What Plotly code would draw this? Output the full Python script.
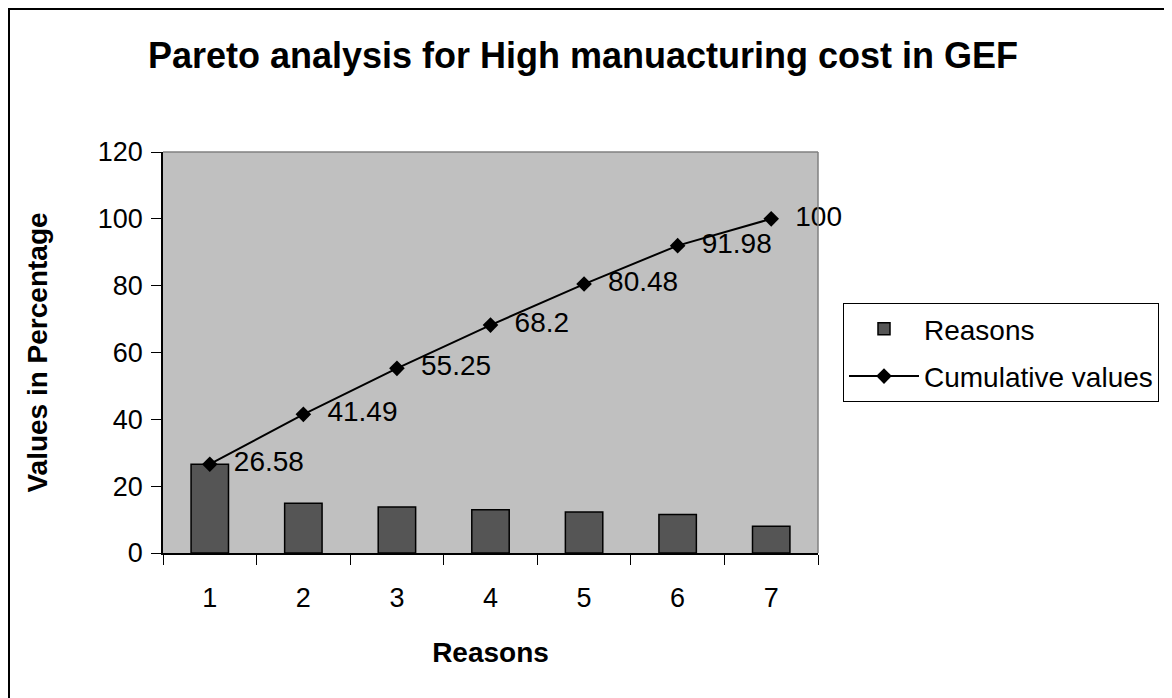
import plotly.graph_objects as go

categories = ["1", "2", "3", "4", "5", "6", "7"]
reasons = [26.58, 14.91, 13.76, 12.95, 12.28, 11.50, 8.02]
cumulative = [26.58, 41.49, 55.25, 68.2, 80.48, 91.98, 100]
cum_labels = ["26.58", "41.49", "55.25", "68.2", "80.48", "91.98", "100"]

FONT = "Liberation Sans, Arial, sans-serif"

fig = go.Figure()
fig.add_trace(go.Bar(
    x=categories, y=reasons, name="Reasons",
    marker=dict(color="#555555", line=dict(color="black", width=1.5)),
    width=0.4, legendgroup="a",
))
fig.add_trace(go.Scatter(
    x=categories, y=cumulative, name="Cumulative values",
    mode="lines+markers+text",
    line=dict(color="black", width=2),
    marker=dict(symbol="diamond", size=12, color="black"),
    text=cum_labels, texttemplate="  %{text}", textposition="middle right",
    textfont=dict(size=28, color="black", family=FONT),
    cliponaxis=False, legendgroup="b",
))

# pixel positions as seen in the screenshot (page has 8px body margin)
OFF = 8
L, R, T, B = 163, 818, 152, 553
W, H = 1172, 698
pw, ph = R - L, B - T

def px(xp):
    return (xp - L) / pw

def py(yp):
    return (B - yp) / ph

fig.update_layout(
    width=W, height=H,
    margin=dict(l=L - OFF, r=W - (R - OFF), t=T - OFF, b=H - (B - OFF), pad=0),
    paper_bgcolor="white",
    plot_bgcolor="#C0C0C0",
    font=dict(family=FONT, color="black", size=27),
    title=dict(text="<b>Pareto analysis for High manuacturing cost in GEF</b>",
               x=(583 - OFF) / W, xanchor="center", y=1 - (55 - OFF) / H, yanchor="middle",
               font=dict(size=36, family=FONT)),
    showlegend=True,
    legend=dict(x=px(843), y=py(303), xanchor="left", yanchor="top",
                bgcolor="white", bordercolor="black", borderwidth=1,
                font=dict(size=28, family=FONT), itemwidth=70,
                tracegroupgap=8),
    bargap=0.6,
    shapes=[
        dict(type="line", xref="paper", yref="paper", x0=px(9), x1=px(9),
             y0=py(9), y1=py(720), line=dict(color="black", width=2)),
        dict(type="line", xref="paper", yref="paper", x0=px(8), x1=px(1200),
             y0=py(9), y1=py(9), line=dict(color="black", width=2)),
        dict(type="line", xref="paper", yref="paper", x0=0, x1=1,
             y0=1, y1=1, line=dict(color="#808080", width=1.5)),
        dict(type="line", xref="paper", yref="paper", x0=1, x1=1,
             y0=0, y1=1, line=dict(color="#808080", width=1.5)),
    ],
)

fig.update_xaxes(
    type="category",
    tickson="boundaries",
    ticks="outside", ticklen=10, tickwidth=1, tickcolor="black",
    showline=True, linecolor="black", linewidth=1.5,
    showgrid=False,
    ticklabelstandoff=20,
    tickfont=dict(size=27, family=FONT),
    title=dict(text="<b>Reasons</b>", font=dict(size=28, family=FONT), standoff=30),
)
fig.update_yaxes(
    range=[0, 120], dtick=20,
    ticks="outside", ticklen=10, tickwidth=1, tickcolor="black",
    showline=True, linecolor="black", linewidth=1.5,
    showgrid=False, zeroline=False,
    ticklabelstandoff=3,
    tickfont=dict(size=27, family=FONT),
    title=dict(text="<b>Values in Percentage</b>", font=dict(size=28, family=FONT), standoff=42),
)

fig.write_html("out.html")
